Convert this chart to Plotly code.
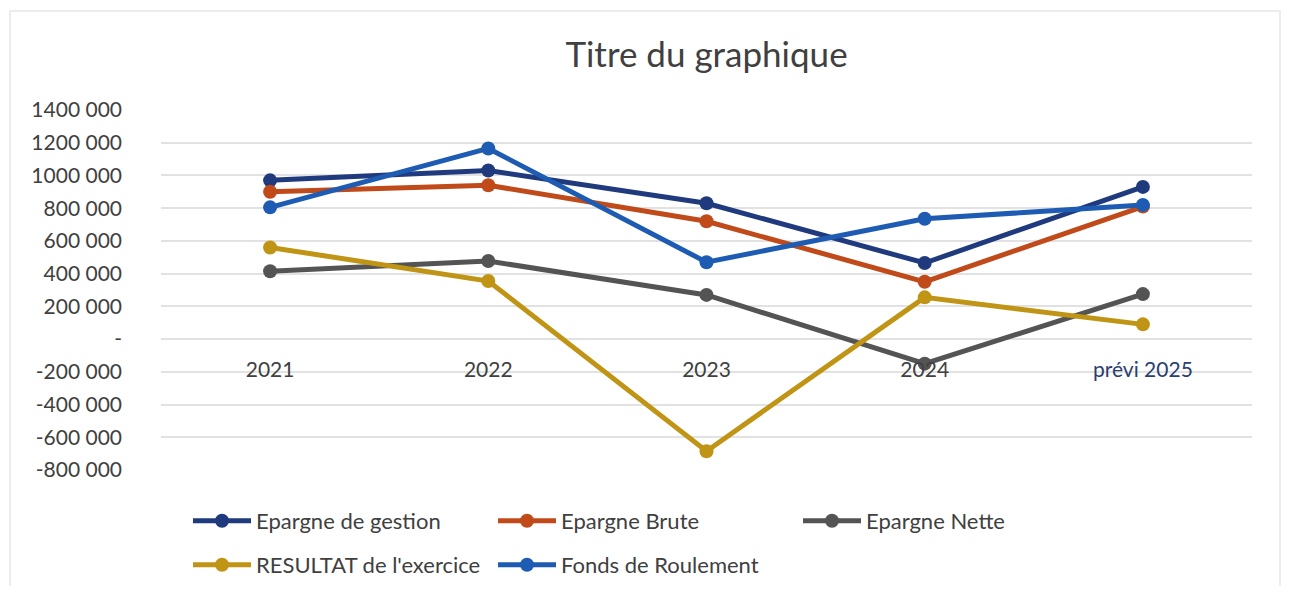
import plotly.graph_objects as go

categories = ["2021", "2022", "2023", "2024", "prévi 2025"]
epargne_gestion = [970000, 1030000, 830000, 465000, 930000]
epargne_brute = [900000, 940000, 720000, 350000, 810000]
epargne_nette = [415000, 477000, 270000, -150000, 275000]
resultat = [560000, 355000, -685000, 255000, 90000]
fonds_roulement = [805000, 1165000, 470000, 735000, 820000]

y_tickvals = [1400000, 1200000, 1000000, 800000, 600000, 400000, 200000, 0,
              -200000, -400000, -600000, -800000]
y_ticktext = ["1400 000", "1200 000", "1000 000", "800 000", "600 000", "400 000",
              "200 000", "-", "-200 000", "-400 000", "-600 000", "-800 000"]

series = [
    ("Epargne de gestion", epargne_gestion, "#1F3A7D", "legend"),
    ("Epargne Brute", epargne_brute, "#C04A1A", "legend"),
    ("Epargne Nette", epargne_nette, "#545454", "legend"),
    ("RESULTAT de l'exercice", resultat, "#C09414", "legend2"),
    ("Fonds de Roulement", fonds_roulement, "#1E5CB3", "legend2"),
]

fig = go.Figure()
for name, vals, col, lg in series:
    fig.add_trace(go.Scatter(
        x=categories, y=vals, name=name, mode="lines+markers",
        line=dict(color=col, width=5),
        marker=dict(color=col, size=14),
        legend=lg,
    ))

tick_x = [c if c != "prévi 2025" else "<span style='color:#2A3E72'>prévi 2025</span>"
          for c in categories]

# figure pixel geometry (page is offset by 8px body margin)
W, H = 1273, 578
L, T = 153, 102
R_EDGE = 1244
PLOT_BOTTOM = 462
PW = R_EDGE - L
PPH = H - T            # paper height (bottom margin 0)
d = (H - PLOT_BOTTOM) / PPH   # y-domain start


def py(fy):
    """figure pixel y -> paper fraction"""
    return (H - fy) / PPH


def px(fx):
    return (fx - L) / PW


zero_fy = PLOT_BOTTOM - (PLOT_BOTTOM - T) * 0.8 / 2.2

font_family = "Lato, 'Open Sans', sans-serif"
leg_common = dict(orientation="h", xanchor="left", yanchor="middle",
                  entrywidth=232, entrywidthmode="pixels", itemwidth=58,
                  font=dict(size=22, color="#404040"), bgcolor="rgba(0,0,0,0)")

fig.update_layout(
    width=W, height=H,
    paper_bgcolor="white", plot_bgcolor="white",
    margin=dict(l=L, r=W - R_EDGE, t=T, b=0, autoexpand=False),
    title=dict(text="Titre du graphique", x=0.5, xref="paper", y=1 - 47 / H,
               yanchor="middle",
               font=dict(family=font_family, size=35, color="#404040")),
    font=dict(family=font_family, color="#404040"),
    showlegend=True,
    legend=dict(x=px(180), y=py(513), **leg_common),
    legend2=dict(x=px(180), y=py(557), **leg_common),
    xaxis=dict(type="category", range=[-0.5, 4.5], showgrid=False, showline=False,
               zeroline=False, ticks="", tickmode="array", tickvals=categories,
               ticktext=tick_x, anchor="free", position=py(zero_fy + 16),
               automargin=False,
               tickfont=dict(size=21, color="#404040")),
    yaxis=dict(domain=[d, 1], range=[-800000, 1400000], tickmode="array",
               tickvals=y_tickvals, automargin=False,
               ticktext=y_ticktext, showgrid=True, gridcolor="#E2E2E2", gridwidth=1.5,
               zeroline=False, showline=False, ticks="", ticklabelstandoff=38,
               tickfont=dict(size=21, color="#404040")),
    shapes=[dict(type="rect", xref="paper", yref="paper",
                 x0=px(2), x1=px(1272), y0=py(600), y1=py(3),
                 line=dict(color="#E6E6E6", width=1.5), layer="below")],
)

fig.write_html("out.html")
